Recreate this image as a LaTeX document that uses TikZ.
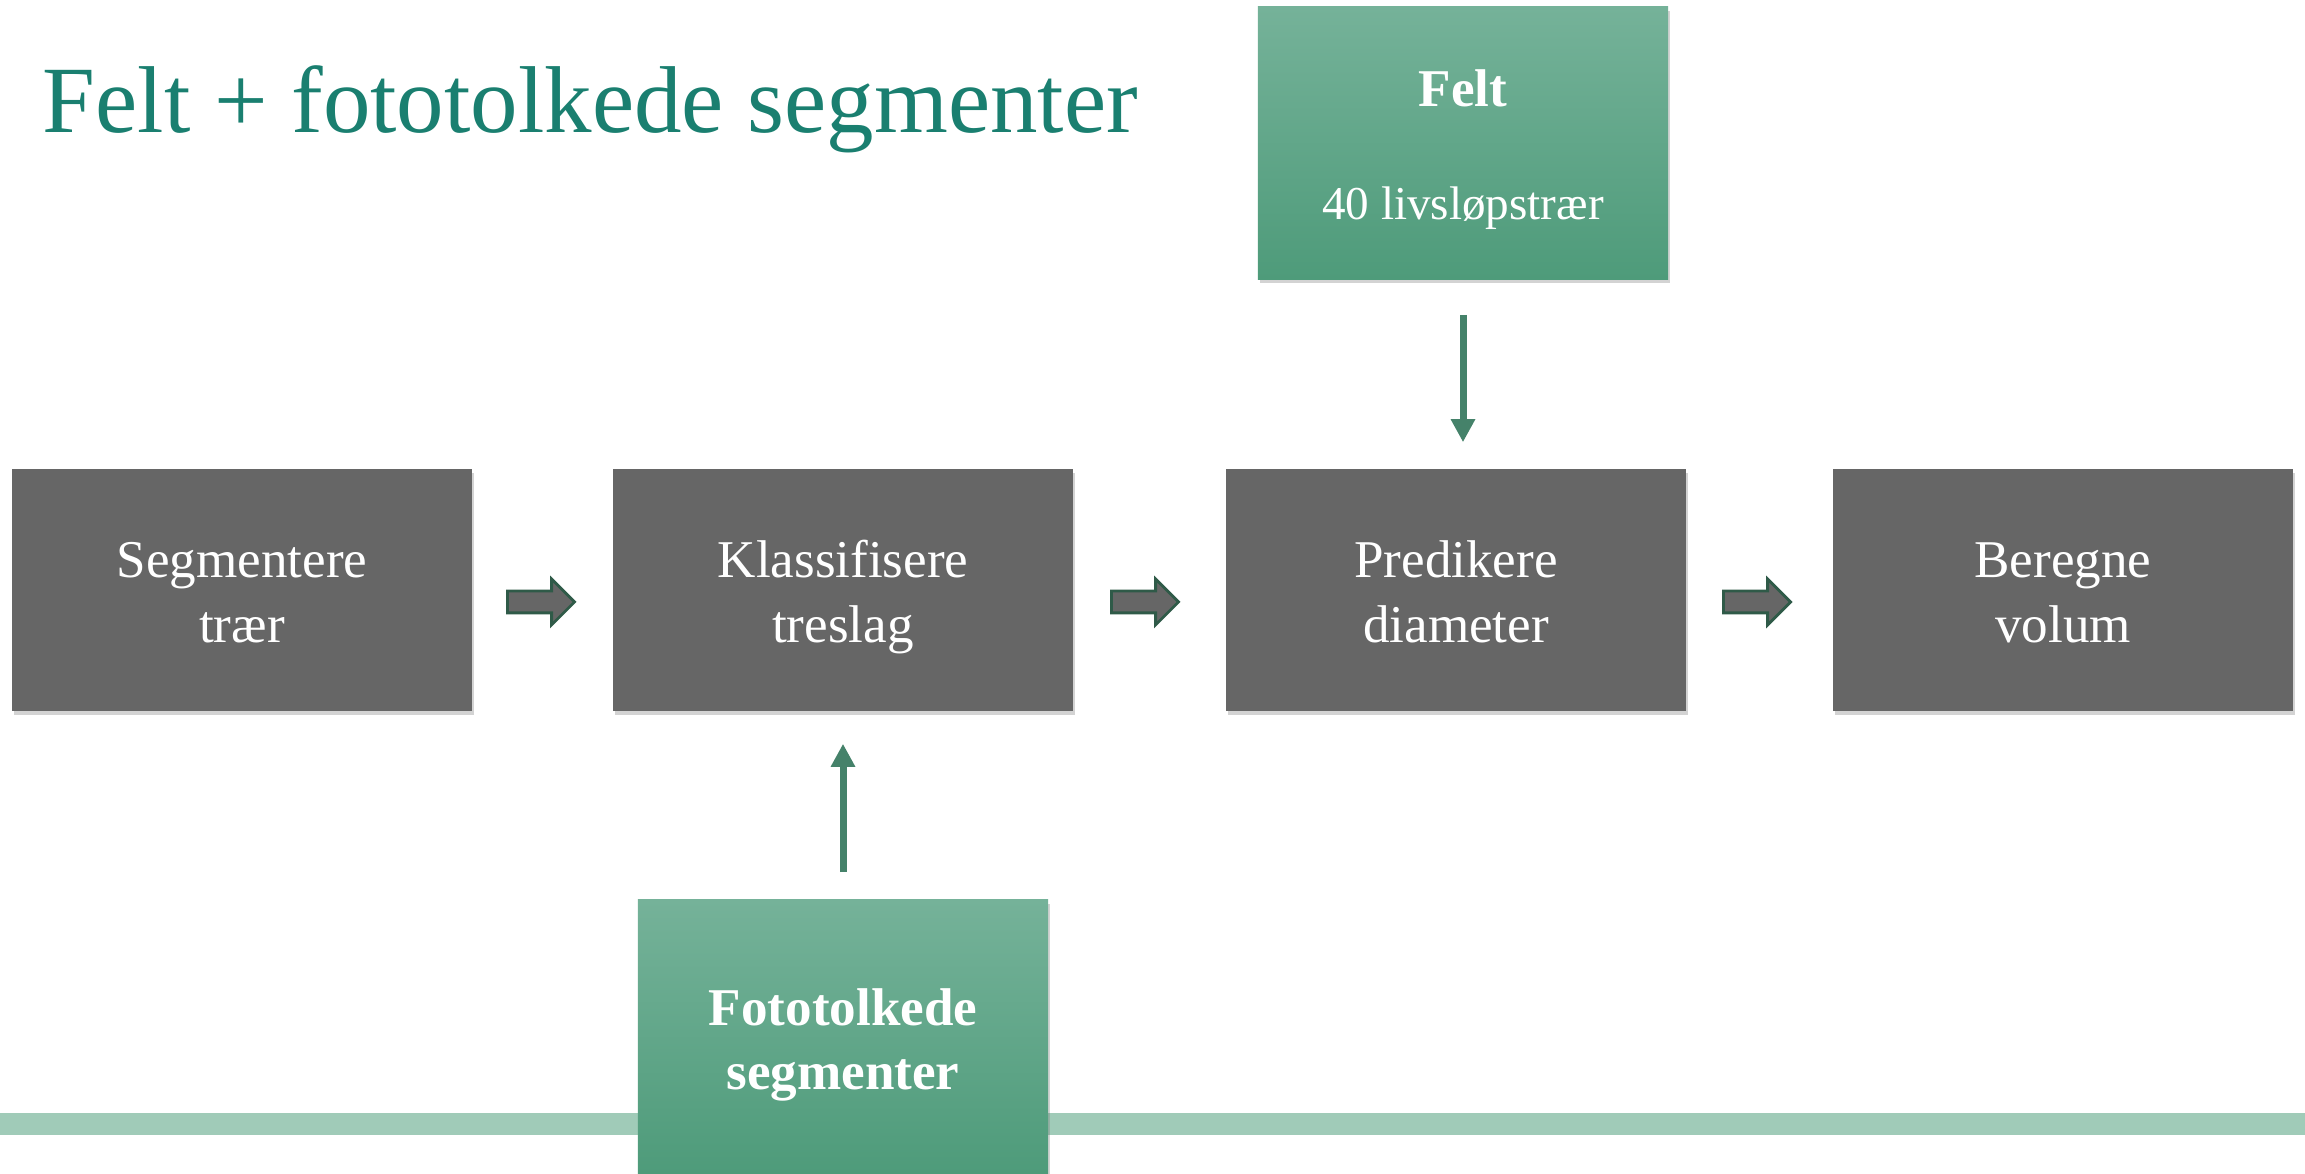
\documentclass[tikz,border=0pt]{standalone}
\usepackage{fontspec}
\setmainfont{Liberation Serif}
\usetikzlibrary{arrows.meta,shapes.arrows,shadows,calc}

\definecolor{titlegreen}{RGB}{26,127,112}
\definecolor{boxgray}{RGB}{102,102,102}
\definecolor{greentop}{RGB}{117,178,153}
\definecolor{greenbot}{RGB}{78,155,122}
\definecolor{feedgreen}{RGB}{69,130,106}
\definecolor{bandgreen}{RGB}{160,203,184}
\definecolor{rimgreen}{RGB}{47,90,72}

% fixed top and bottom of a text block, so all boxes line up
\newcommand{\capstrut}{\rule{0pt}{0.55cm}}
\newcommand{\descstrut}{\rule[-0.15cm]{0pt}{0.15cm}}

\tikzset{
	stepbox/.style={draw=none, fill=boxgray, text=white, align=center,
		minimum width=4.6cm, minimum height=2.42cm, inner sep=0pt,
		font=\fontsize{15.1pt}{18.2pt}\selectfont,
		drop shadow={shadow xshift=0.02cm, shadow yshift=-0.04cm, opacity=0.35}},
	sourcebox/.style={draw=none, top color=greentop, bottom color=greenbot,
		text=white, align=center, minimum width=4.1cm, inner sep=0pt,
		font=\fontsize{15.1pt}{18.2pt}\selectfont,
		drop shadow={shadow xshift=0.02cm, shadow yshift=-0.04cm, opacity=0.35}},
	blockarrow/.style={single arrow, draw=rimgreen, line width=0.8pt, fill=boxgray,
		minimum height=0.67cm, inner xsep=0pt, inner ysep=0.095cm, anchor=tip,
		single arrow head extend=0.12cm, single arrow head indent=0pt},
	feed/.style={draw=feedgreen, line width=0.07cm,
		-{Triangle[width=0.23cm, length=0.23cm]}}
}

\begin{document}
\begin{tikzpicture}[x=0.01cm, y=-0.01cm]
	\useasboundingbox (0,0) rectangle (2305,1174);
	%band along the bottom
	\fill[bandgreen] (0,1113) rectangle (2305,1135);
	%title
	\node[anchor=base west, inner sep=0pt, text=titlegreen,
		font=\fontsize{27pt}{32pt}\selectfont] (title) at (42,133) {Felt + fototolkede segmenter};
	%process steps
	\node[stepbox] (seg) at (242,590) {\capstrut Segmentere\\trær\descstrut};
	\node[stepbox] (klass) at (843,590) {\capstrut Klassifisere\\treslag\descstrut};
	\node[stepbox] (pred) at (1456,590) {\capstrut Predikere\\diameter\descstrut};
	\node[stepbox] (vol) at (2063,590) {\capstrut Beregne\\volum\descstrut};
	%block arrows between the steps, placed by their tips
	\node[blockarrow] (a1) at ($(seg.east)!0.5!(klass.west)+(34,12)$) {};
	\node[blockarrow] (a2) at ($(klass.east)!0.5!(pred.west)+(31,12)$) {};
	\node[blockarrow] (a3) at ($(pred.east)!0.5!(vol.west)+(33,12)$) {};
	%data sources
	\node[sourcebox, minimum height=2.72cm] (felt) at (1463,143)
		{\capstrut\textbf{Felt}\\[14pt]{\fontsize{13.4pt}{16pt}\selectfont 40 livsløpstrær}\descstrut};
	\node[sourcebox, minimum height=2.74cm] (foto) at (843,1037)
		{\capstrut\textbf{Fototolkede}\\\textbf{segmenter}\descstrut};
	\draw[feed, shorten <=0.35cm, shorten >=0.26cm] (felt.south) -- (felt.south |- pred.north);
	\draw[feed, shorten <=0.27cm, shorten >=0.32cm] (foto.north) -- (klass.south);
\end{tikzpicture}
\end{document}
